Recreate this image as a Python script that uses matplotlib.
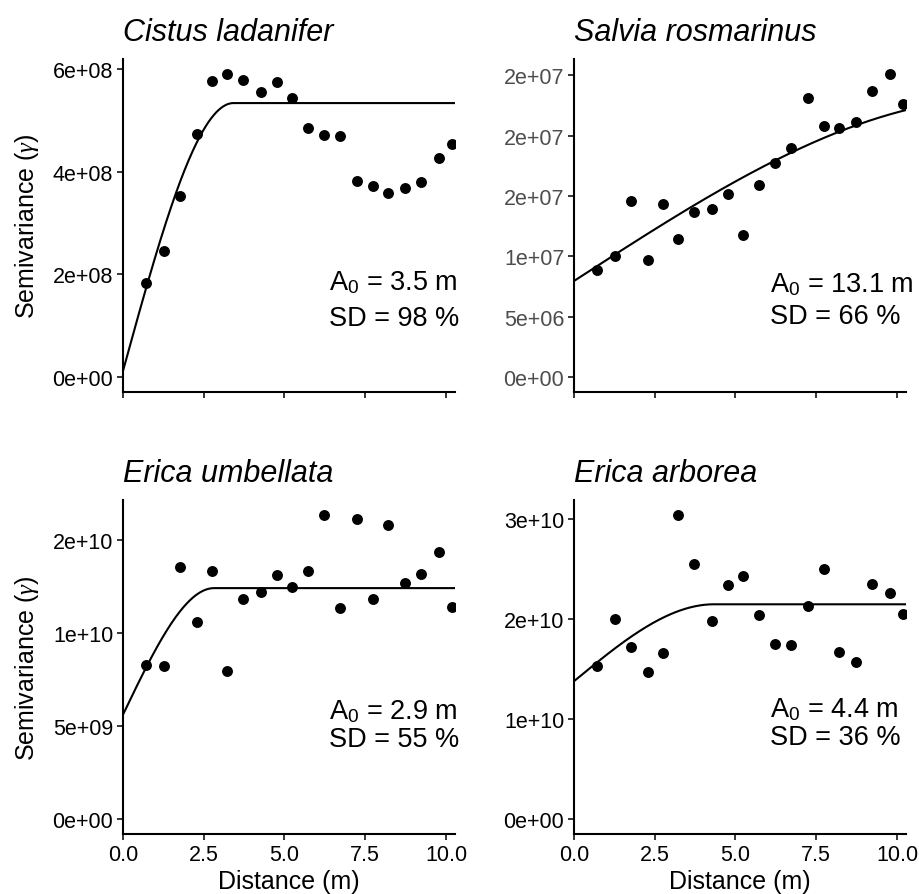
import numpy as np
import matplotlib
matplotlib.use("Agg")
import matplotlib.pyplot as plt

plt.rcParams['font.family'] = ['Liberation Sans', 'DejaVu Sans']
plt.rcParams['mathtext.fontset'] = 'custom'
plt.rcParams['mathtext.rm'] = 'Liberation Sans'
plt.rcParams['mathtext.it'] = 'Liberation Serif:italic'

# lag distances (m), shared by all four species
distance = [0.72, 1.27, 1.78, 2.28, 2.76, 3.22, 3.73, 4.27, 4.76, 5.24,
            5.74, 6.21, 6.71, 7.24, 7.75, 8.22, 8.72, 9.23, 9.77, 10.2]

species = ["Cistus ladanifer", "Salvia rosmarinus",
           "Erica umbellata", "Erica arborea"]

gamma_cistus = [1.82e8, 2.46e8, 3.52e8, 4.74e8, 5.76e8, 5.90e8, 5.79e8, 5.55e8, 5.75e8, 5.44e8,
                4.85e8, 4.72e8, 4.70e8, 3.82e8, 3.72e8, 3.59e8, 3.68e8, 3.79e8, 4.27e8, 4.54e8]
gamma_salvia = [0.885e7, 1.00e7, 1.46e7, 0.97e7, 1.43e7, 1.14e7, 1.37e7, 1.39e7, 1.52e7, 1.18e7,
                1.59e7, 1.77e7, 1.90e7, 2.31e7, 2.08e7, 2.06e7, 2.11e7, 2.37e7, 2.51e7, 2.26e7]
gamma_umbellata = [0.827e10, 0.820e10, 1.354e10, 1.059e10, 1.331e10, 0.797e10, 1.181e10, 1.221e10,
                   1.310e10, 1.247e10, 1.333e10, 1.632e10, 1.132e10, 1.614e10, 1.181e10, 1.580e10,
                   1.270e10, 1.315e10, 1.434e10, 1.137e10]
gamma_arborea = [1.528e10, 1.999e10, 1.720e10, 1.468e10, 1.661e10, 3.036e10, 2.552e10, 1.982e10,
                 2.333e10, 2.430e10, 2.042e10, 1.743e10, 1.734e10, 2.125e10, 2.502e10, 1.667e10,
                 1.568e10, 2.343e10, 2.261e10, 2.045e10]
gammas = [gamma_cistus, gamma_salvia, gamma_umbellata, gamma_arborea]

# fitted spherical models: nugget, sill, range
nugget = [1.16e7, 0.795e7, 0.560e10, 1.376e10]
sill = [5.336e8, 2.31e7, 1.240e10, 2.145e10]
model_range = [3.42, 13.1, 2.82, 4.33]

range_label = ["3.5", "13.1", "2.9", "4.4"]
sd_label = ["98", "66", "55", "36"]

yticks = [[0, 2e8, 4e8, 6e8],
          [0, 5e6, 1e7, 1.5e7, 2e7, 2.5e7],
          [0, 5e9, 1e10, 1.5e10],
          [0, 1e10, 2e10, 3e10]]
yticklabels = [["0e+00", "2e+08", "4e+08", "6e+08"],
               ["0e+00", "5e+06", "1e+07", "2e+07", "2e+07", "2e+07"],
               ["0e+00", "5e+09", "1e+10", "2e+10"],
               ["0e+00", "1e+10", "2e+10", "3e+10"]]
xticks = [0, 2.5, 5, 7.5, 10]
xticklabels = ["0.0", "2.5", "5.0", "7.5", "10.0"]


def spherical(h, c0, c, a):
    h = np.asarray(h)
    inner = c0 + (c - c0) * (1.5 * h / a - 0.5 * (h / a) ** 3)
    return np.where(h < a, inner, c)


def main():
    W, H = 919, 895
    fig = plt.figure(figsize=(W / 100, H / 100), dpi=100)
    boxes = [(123, 60, 455, 393), (574, 60, 906, 393),
             (123, 501, 455, 835), (574, 501, 906, 835)]
    text_x = [0.62, 0.59, 0.62, 0.59]
    a0_y = [0.330, 0.324, 0.368, 0.374]
    sd_y = [0.222, 0.229, 0.284, 0.290]
    xmax = 10.28
    for i in range(4):
        x0, y0, x1, y1 = boxes[i]
        ax = fig.add_axes([x0 / W, 1 - y1 / H, (x1 - x0) / W, (y1 - y0) / H])
        hh = np.linspace(0, xmax, 400)
        ax.plot(hh, spherical(hh, nugget[i], sill[i], model_range[i]),
                color='black', lw=1.5)
        ax.scatter(distance, gammas[i], s=62, color='black', lw=0, zorder=3)
        ymax = max(gammas[i])
        pad = 0.05 * ymax
        ax.set_ylim(-pad, ymax + pad)
        ax.set_xlim(0, xmax)
        ax.set_xticks(xticks)
        ax.set_yticks(yticks[i])
        ax.set_yticklabels(yticklabels[i])
        if i >= 2:
            ax.set_xticklabels(xticklabels)
            ax.set_xlabel("Distance (m)", fontsize=18, labelpad=3)
        else:
            ax.set_xticklabels([])
        for s in ['top', 'right']:
            ax.spines[s].set_visible(False)
        for s in ['left', 'bottom']:
            ax.spines[s].set_linewidth(1.5)
        ax.tick_params(length=4.5, width=1.1, labelsize=15.5, pad=2.5, colors='black')
        if i == 1:
            ax.tick_params(axis='y', labelcolor='#4d4d4d')
        ax.set_title(species[i], loc='left', fontsize=22, style='italic', pad=14)
        if i % 2 == 0:
            ax.text(-0.29, 0.5, r"Semivariance ($\gamma$)", transform=ax.transAxes,
                    rotation=90, ha='center', va='center', fontsize=18)
        ax.text(text_x[i], a0_y[i],
                r"A$_{\mathrm{0}}$ = %s m" % range_label[i],
                transform=ax.transAxes, ha='left', va='center', fontsize=19.5)
        ax.text(text_x[i], sd_y[i],
                "SD = %s %%" % sd_label[i],
                transform=ax.transAxes, ha='left', va='center', fontsize=19.5)
    fig.savefig("out.png", dpi=100)


if __name__ == "__main__":
    main()
